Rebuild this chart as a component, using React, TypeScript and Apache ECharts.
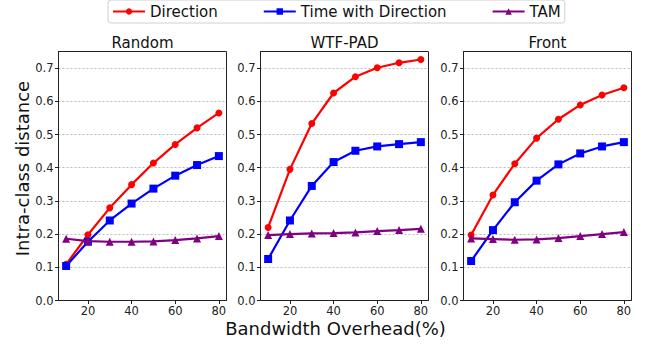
import React, { useEffect, useRef } from "react";
import * as echarts from "echarts";

const overhead = [10, 20, 30, 40, 50, 60, 70, 80];
const panelTitles = ["Random", "WTF-PAD", "Front"];
const seriesNames = ["Direction", "Time with Direction", "TAM"];

const randomDirection = [0.109, 0.198, 0.279, 0.349, 0.414, 0.47, 0.52, 0.565];
const randomTimeDir = [0.104, 0.177, 0.241, 0.292, 0.337, 0.376, 0.408, 0.435];
const randomTAM = [0.186, 0.179, 0.177, 0.177, 0.178, 0.182, 0.187, 0.194];

const wtfDirection = [0.22, 0.395, 0.533, 0.625, 0.674, 0.701, 0.716, 0.726];
const wtfTimeDir = [0.125, 0.241, 0.345, 0.417, 0.451, 0.464, 0.471, 0.477];
const wtfTAM = [0.197, 0.2, 0.202, 0.203, 0.205, 0.209, 0.212, 0.216];

const frontDirection = [0.197, 0.318, 0.412, 0.489, 0.546, 0.589, 0.619, 0.641];
const frontTimeDir = [0.119, 0.212, 0.296, 0.361, 0.41, 0.443, 0.464, 0.477];
const frontTAM = [0.187, 0.185, 0.183, 0.184, 0.188, 0.194, 0.2, 0.206];

const xTicks = [20, 40, 60, 80];

const FONT = "DejaVu Sans";
const colors = ["#ff0000", "#0000ff", "#800080"];
const symbols = ["circle", "rect", "triangle"];
const symbolSizes = [7, 8, 8];

const panels = [
  [randomDirection, randomTimeDir, randomTAM],
  [wtfDirection, wtfTimeDir, wtfTAM],
  [frontDirection, frontTimeDir, frontTAM],
];

const gridLefts = [58.5, 260.5, 463.5];
const gridWidth = 168;
const gridTop = 51.5;
const gridHeight = 249;

export default function App() {
  const ref = useRef<HTMLDivElement>(null);
  useEffect(() => {
    if (!ref.current) return;
    const chart = echarts.init(ref.current, null, { renderer: "svg" });
    const grids = gridLefts.map((l) => ({
      left: l,
      top: gridTop,
      width: gridWidth,
      height: gridHeight,
      show: false,
    }));
    const frameLine = { show: true, onZero: false, lineStyle: { color: "#222", width: 1 } };
    const xAxes: any[] = [];
    const yAxes: any[] = [];
    gridLefts.forEach((_, i) => {
      xAxes.push({
        type: "value",
        gridIndex: i,
        min: 6.5,
        max: 83.5,
        axisLine: frameLine,
        axisTick: { show: true, inside: false, length: 3.5, customValues: xTicks, lineStyle: { color: "#222" } },
        axisLabel: {
          customValues: xTicks,
          fontFamily: FONT,
          fontSize: 11.5,
          color: "#222",
          margin: 4,
        },
        splitLine: { show: false },
      });
      yAxes.push({
        type: "value",
        gridIndex: i,
        min: 0,
        max: 0.75,
        interval: 0.1,
        axisLine: frameLine,
        axisTick: { show: true, inside: false, length: 3.5, lineStyle: { color: "#222" } },
        axisLabel: {
          fontFamily: FONT,
          fontSize: 11.5,
          color: "#222",
          margin: 5,
          showMaxLabel: false,
          formatter: (v: number) => v.toFixed(1),
        },
        splitLine: { show: true, lineStyle: { color: "#aaaaaa", type: [2, 2], width: 0.8 } },
      });
    });
    const series: any[] = [];
    panels.forEach((panel, pi) => {
      panel.forEach((vals, si) => {
        series.push({
          type: "line",
          name: seriesNames[si],
          xAxisIndex: pi,
          yAxisIndex: pi,
          data: overhead.map((x, k) => [x, vals[k]]),
          symbol: symbols[si],
          symbolSize: symbolSizes[si],
          showAllSymbol: true,
          lineStyle: { color: colors[si], width: 2.2 },
          itemStyle: { color: colors[si] },
          z: 2 + si,
        });
      });
    });
    const graphic: any[] = [];
    gridLefts.forEach((l) => {
      graphic.push({
        type: "rect",
        z: 10,
        silent: true,
        shape: { x: l, y: gridTop, width: gridWidth, height: gridHeight },
        style: { fill: "none", stroke: "#222", lineWidth: 1 },
      });
    });
    panelTitles.forEach((t, i) => {
      graphic.push({
        type: "text",
        x: gridLefts[i] + gridWidth / 2,
        y: 42.5,
        style: {
          text: t,
          fontFamily: FONT,
          fontSize: 15,
          fill: "#111",
          textAlign: "center",
          textVerticalAlign: "middle",
        },
      });
    });
    graphic.push({
      type: "text",
      x: 335.5,
      y: 328,
      style: {
        text: "Bandwidth Overhead(%)",
        fontFamily: FONT,
        fontSize: 18,
        fill: "#111",
        textAlign: "center",
        textVerticalAlign: "middle",
      },
    });
    graphic.push({
      type: "text",
      x: 22,
      y: 168.5,
      rotation: Math.PI / 2,
      style: {
        text: "Intra-class distance",
        fontFamily: FONT,
        fontSize: 18,
        fill: "#111",
        textAlign: "center",
        textVerticalAlign: "middle",
      },
    });
    chart.setOption({
      animation: false,
      backgroundColor: "#ffffff",
      legend: {
        data: seriesNames,
        left: 108,
        top: 0,
        padding: [4, 4, 4, 4],
        itemGap: 45,
        itemWidth: 32,
        itemHeight: 8,
        borderColor: "#d0d0d0",
        borderWidth: 1,
        borderRadius: 3,
        backgroundColor: "#fff",
        textStyle: { fontFamily: FONT, fontSize: 15, color: "#111", lineHeight: 15 },
      },
      grid: grids,
      xAxis: xAxes,
      yAxis: yAxes,
      series,
      graphic,
    });
    return () => chart.dispose();
  }, []);
  return <div ref={ref} style={{ width: 647, height: 345, position: "absolute", left: 0, top: 0 }} />;
}
